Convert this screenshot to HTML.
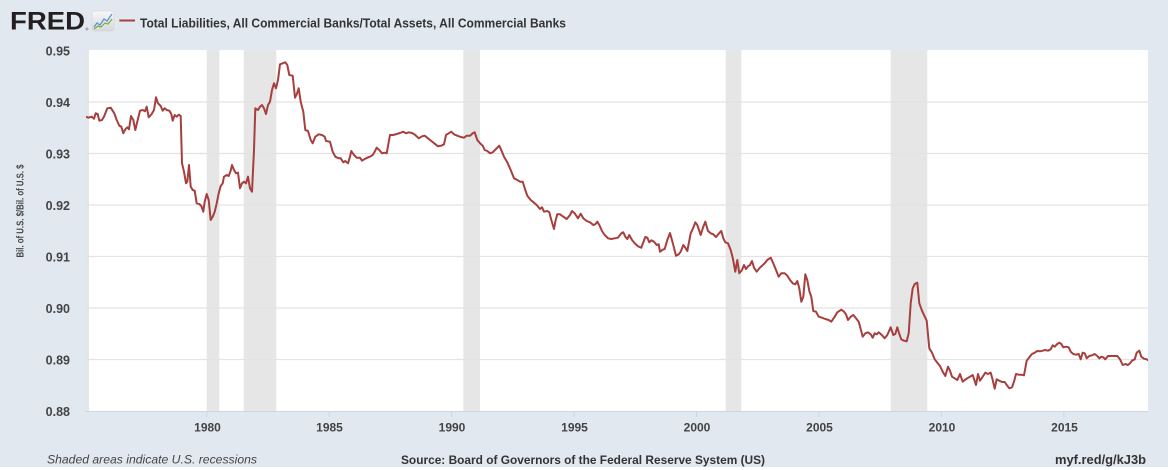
<!DOCTYPE html>
<html>
<head>
<meta charset="utf-8">
<style>
html,body{margin:0;padding:0;background:#fff;}
svg{display:block;}
text{font-family:"Liberation Sans",Arial,sans-serif;}
</style>
</head>
<body>
<svg width="1168" height="470" viewBox="0 0 1168 470" xmlns="http://www.w3.org/2000/svg">
  <defs>
    <clipPath id="plot"><rect x="86" y="50" width="1062" height="361"/></clipPath>
    <linearGradient id="ig" x1="0" y1="0" x2="0" y2="1">
      <stop offset="0" stop-color="#f7f7f7"/>
      <stop offset="1" stop-color="#d9d9d9"/>
    </linearGradient>
  </defs>
  <rect x="0" y="0" width="1168" height="467" fill="#e1e8f0"/>
  <rect x="0" y="467" width="1168" height="3" fill="#ffffff"/>

  <!-- Header -->
  <text x="10" y="29.5" font-size="25" font-weight="bold" fill="#231f20" textLength="75" lengthAdjust="spacingAndGlyphs">FRED</text>
  <text x="85.5" y="30.5" font-size="4" fill="#231f20">®</text>
  <rect x="92" y="11" width="22" height="20" rx="2.5" fill="url(#ig)" stroke="#cfcfcf" stroke-width="0.5"/>
  <polyline points="94,27 97,23 100,25 104,19 107,21 112,14" fill="none" stroke="#5a8fcf" stroke-width="1.2"/>
  <polyline points="94,29 98,26 101,27 105,23 108,24 112,19" fill="none" stroke="#6fae45" stroke-width="1.2"/>
  <line x1="119.3" y1="20.5" x2="135" y2="20.5" stroke="#a63f3d" stroke-width="2"/>
  <text x="140" y="27.5" font-size="13" font-weight="bold" fill="#333" textLength="426" lengthAdjust="spacingAndGlyphs">Total Liabilities, All Commercial Banks/Total Assets, All Commercial Banks</text>

  <!-- Plot area -->
  <rect x="86" y="50" width="1062" height="361" fill="#ffffff"/>
  <!-- Recession shading -->
  <g fill="#e6e6e6">
    <rect x="86" y="50" width="3" height="361"/>
    <rect x="206.7" y="50" width="12.6" height="361"/>
    <rect x="243.7" y="50" width="32.6" height="361"/>
    <rect x="463.3" y="50" width="16.7" height="361"/>
    <rect x="725.7" y="50" width="15.6" height="361"/>
    <rect x="890.7" y="50" width="36.6" height="361"/>
  </g>
  <!-- Gridlines -->
  <g stroke="#e3e3e3" stroke-width="1.3">
    <line x1="86" y1="102" x2="1148" y2="102"/>
    <line x1="86" y1="153.5" x2="1148" y2="153.5"/>
    <line x1="86" y1="205" x2="1148" y2="205"/>
    <line x1="86" y1="256.5" x2="1148" y2="256.5"/>
    <line x1="86" y1="308" x2="1148" y2="308"/>
    <line x1="86" y1="359.5" x2="1148" y2="359.5"/>
  </g>
  <!-- X axis -->
  <line x1="85" y1="411.5" x2="1148" y2="411.5" stroke="#ccd6eb" stroke-width="1"/>
  <g stroke="#ccd6eb" stroke-width="1">
    <line x1="206.7" y1="411" x2="206.7" y2="417"/>
    <line x1="329.2" y1="411" x2="329.2" y2="417"/>
    <line x1="451.6" y1="411" x2="451.6" y2="417"/>
    <line x1="574.1" y1="411" x2="574.1" y2="417"/>
    <line x1="696.5" y1="411" x2="696.5" y2="417"/>
    <line x1="819" y1="411" x2="819" y2="417"/>
    <line x1="941.4" y1="411" x2="941.4" y2="417"/>
    <line x1="1063.9" y1="411" x2="1063.9" y2="417"/>
  </g>
  <g font-size="12" font-weight="bold" fill="#444" text-anchor="middle">
    <text x="207.5" y="431.5">1980</text>
    <text x="329.5" y="431.5">1985</text>
    <text x="452" y="431.5">1990</text>
    <text x="574.5" y="431.5">1995</text>
    <text x="697" y="431.5">2000</text>
    <text x="819.5" y="431.5">2005</text>
    <text x="942" y="431.5">2010</text>
    <text x="1064.5" y="431.5">2015</text>
  </g>
  <!-- Y labels -->
  <g font-size="12.5" font-weight="bold" fill="#444" text-anchor="end">
    <text x="70" y="55.5">0.95</text>
    <text x="70" y="107">0.94</text>
    <text x="70" y="158.5">0.93</text>
    <text x="70" y="210">0.92</text>
    <text x="70" y="261.5">0.91</text>
    <text x="70" y="313">0.90</text>
    <text x="70" y="364.5">0.89</text>
    <text x="70" y="416">0.88</text>
  </g>
  <text transform="translate(23.5,211) rotate(-90)" font-size="10" font-weight="bold" fill="#444" text-anchor="middle" textLength="93" lengthAdjust="spacingAndGlyphs">Bil. of U.S. $/Bil. of U.S. $</text>

  <!-- Series -->
  <g clip-path="url(#plot)">
  <polyline fill="none" stroke="#a63f3d" stroke-width="2" stroke-linejoin="round" points="
86,116.7 88.3,117.7 91.7,116.7 94,118.7 95.7,113.3 97.7,114 99.3,120.7 102,120 104,116.7 107.3,108.3 110.7,107.7 114.3,113.3 116.7,120 119.3,125.7 121.3,126.7 123.3,133.3 125.3,129.3 127.3,127.3 129,129.3 131,116 133.3,120 135.3,130 137.3,121.7 140,110.7 142.7,110 145,111.3 146.7,106.7 148.7,117.3 151.7,114 154,110 156,97.3 158,103.3 160.7,106 162.7,110.7 164.7,108.3 166.7,110 169.3,110.7 171.3,114 172.7,120.7 174.7,115 176.7,116.7 178.7,114.7 180.7,116 182,163.3 184,171.7 186,183.3 187.3,181.7 189,165 190.7,186.7 192.7,190 194.7,190.7 196.7,203.3 199.3,204 201.3,206 203.3,211.7 204.7,201.7 206.7,194 208.7,200 210.7,220 212.7,216.7 214.7,211.7 216.7,203.3 218.7,193.3 220.7,186 222.7,183.3 224,176.7 226.7,175 228.7,176 230.7,170.7 232,165 234,170 236,173.3 238,172.7 240,188.3 242,183.3 244,181.7 246,183.3 248,176.7 250,188.3 252,191.7 254,150 255.3,108.3 258,110 260,106.7 262,105 264,108.3 266,114 268,105 270,101.7 272,90 274,83.3 276,88.3 278,80
280,64.3 282.7,63.3 285.3,62.3 287.3,65 289.3,75 292.7,75.7 295,97.7 296.7,94.3 298.7,88.3 300.7,101.7 303.3,111.7 305.3,130 308,131 310.7,140 312.7,143.3 315.3,136.7 318.7,134.3 322,135 324.7,136.7 326,141 330,141.7 332.7,151.7 335.3,156.7 338.7,158.3 340.7,158.3 343.3,162.3 345.3,161 348,163.3 350,156.7 351.3,151 354,155 356.7,157.7 360,157.7 362,160.7 364.7,159 367.3,157.7 370,156.7 372.7,155 374.7,151.7 376.7,147.7 379.3,150 382,153.3 384.7,152.7 386.7,153.3 390,135 393.3,135 396.7,134 400,133 403.3,131.7 406,133.3 408.7,132.3 412,133 415.3,135 418.7,138.3 422,136.3 424.7,135.7 428,138.3 431.3,141 434.7,143.7 438,146.3 441.3,145.7 444,144.3 446,135 448.7,133.3 451.3,131.7 454,134.3 457.3,135.7 460.7,137 464,137.7 466.7,135.7
470,135.7 472.7,133.3 474.7,132.3 477.3,140 480,143.3 482.7,145.7 484.7,150 487.3,151 490,153.3 492.7,152.3 496,149 499.3,145.7 502,151.7 504,156.7 507.3,162.3 510.7,170 514,178.3 517.3,180 520,181.7 522.7,181.7 525.3,190 527.3,195.7 530.7,200 534,202.7 536.7,205 540,209 542,207.3 544,211.7 547.3,211 549.3,212.3 551.3,220 554,229 555.3,221.7 557.3,214.3 560,214.3 563.3,216.7 566.7,219 570,215 572,211 574.7,213.3 578,218.3 580.7,213.7 583.3,218.3 586.7,221 590,222.3 593.3,225 595.3,224.3 597.3,221.7 599.3,225 602,231 604.7,235 608,238.3 611.3,239 614.7,238.3 618,237.7 621.3,233.3 623.3,232.3 625.3,236.7 627.3,239 629.3,235 632,240 634.7,243.3 638,246.3 641.3,247.7 643.3,242.3 645.3,237 647.3,237.7 649.3,242.3 651.3,240.3 654,241.7 656.7,245 658.7,244.3 660,251.7 662.7,249.7 664.7,249 667.3,240
670,233 673.3,245 676,255.7 678.7,254.3 680.7,251.7 683.3,245 685.3,247.7 687.3,251 690.7,233.3 693.3,227.7 695.3,222.3 697.3,225 700.7,235 703.3,226.7 705.3,221.7 708,231 710.7,233.3 713.3,234.3 716,237 718.7,233.7 721.3,231 723.3,238.3 725.3,242.3 728,243.3 730.7,250 732.7,257.7 735.3,271.7 737.3,260 739.3,273.3 742,270 744,265 746,269 748,266.3 750,265 752,261 754,267.7 756.7,271.7 759.3,268.3 762,265.7 764.7,263.3 767.3,260 770.7,257.7 773.3,263.3 776,270 778.7,276.7 781.3,273.3 784.7,273.3 787.3,275.7 790,280 792.7,283.3 795.3,284.3 797.3,281 799.3,288.3 801.3,301.7 803.3,296.7 805.3,274.3 807.3,280 809.3,291 811.3,296.7 813.3,311 816,311.7 818.7,316.7 822,317.7 825.3,319 828.7,320 831.3,321.7 834,317.7 837.3,312.3 841.3,309.7 844,311.7 846,314.3 848,320 850.7,316.7 853.3,315 856,318.3 858.7,321.7 860.7,329 862.7,336.7 865.3,333.3 868,332.3 870.7,334.3 872.7,337.7 874.7,333.3 876.7,334.3 878.7,332.3
880,333.3 882.7,336 884.7,338.3 887.3,335 890.7,327.3 893.3,335 895.3,334 897.3,327.3 899.3,334 901.3,339.3 904,340.7 906.7,341.3 908.7,333.3 910.7,303.3 912.7,288.3 914.7,284 917.3,282.7 919.3,303.3 922,310.7 924,315 926.7,320.7 929.3,348.3 932,352.7 934.7,359.3 937.3,362.7 940,366 942.7,371.7 945.3,376 948,366.7 950,370.7 952,376.7 954.7,378.3 957.3,380 960,374 962.7,381.7 964.7,380 967.3,378.3 970,376.7 972.7,375 976,385 978,374 980,380.7 982.7,376.7 985.3,372.7 988,374 990.7,372.7 992.7,380 994.7,388.7 996.7,379.3 999.3,380.7 1002,382 1004.7,382 1006.7,385 1009.3,388.3 1012,387.3 1014,381.7 1016,374 1018.7,374.7 1021.3,374.7 1024,375.3 1026.7,360.7 1029.3,357.3 1032,354 1034.7,352.7 1037.3,351 1040,351.3 1042.7,350.7 1045.3,350 1048,350.7 1050.7,349.3 1052.7,345.3 1054.7,346.7 1057.3,344 1059.3,342.7 1061.3,344 1063.3,347.3 1066,346.7 1068.7,347.3 1070.7,351.7 1073.3,354 1076,354.7 1078.7,354 1080.7,359.3 1082.7,352.7 1084.7,353.3 1086.7,358.3 1089.3,356 1092,355.3 1094.7,354 1097.3,356 1099.3,358.3 1101.3,356.7 1103.3,357.3 1105.3,359.3 1108,356 1110,356 1113.3,356 1117.3,356 1120,359.3 1122.7,365 1125.3,364 1128,365 1130,363.3 1132,360.7 1134.7,359.3 1136.7,352.7 1139.3,350.7 1141.3,356.7 1144,358.7 1146.7,359.3 1148.7,360.7"/>
  </g>

  <!-- Footer -->
  <text x="47" y="463.5" font-size="12" font-style="italic" fill="#444" textLength="210" lengthAdjust="spacingAndGlyphs">Shaded areas indicate U.S. recessions</text>
  <text x="401" y="464" font-size="12" font-weight="bold" fill="#333" textLength="364" lengthAdjust="spacingAndGlyphs">Source: Board of Governors of the Federal Reserve System (US)</text>
  <text x="1055" y="464" font-size="12.5" font-weight="bold" fill="#333" textLength="91" lengthAdjust="spacingAndGlyphs">myf.red/g/kJ3b</text>
</svg>
</body>
</html>
